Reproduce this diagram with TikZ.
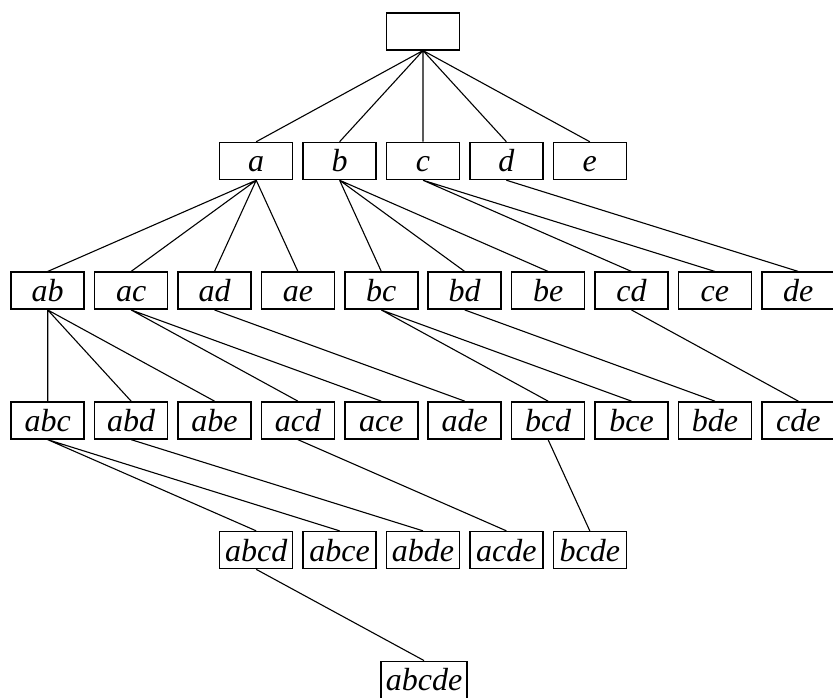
\documentclass[tikz,border=0pt]{standalone}
\usepackage{fontspec}
\setmainfont{Liberation Serif}
\tikzset{
  set/.style={draw, line width=1.5pt, minimum width=73pt, minimum height=37pt,
    inner xsep=5pt, inner ysep=0pt, text height=22pt, text depth=0pt,
    font=\fontsize{32}{32}\selectfont\itshape},
  link/.style={line width=1.1pt}
}
\begin{document}
\begin{tikzpicture}[x=1pt,y=1pt]
    \useasboundingbox (0,0) rectangle (833,697);
    \node[set] (root) at (423,665.7) {};

    \node[set] (a) at (256.2,536) {a};
    \node[set] (b) at (339.6,536) {b};
    \node[set] (c) at (423.0,536) {c};
    \node[set] (d) at (506.4,536) {d};
    \node[set] (e) at (589.8,536) {e};

    \node[set] (ab) at (47.7,406.3) {ab};
    \node[set] (ac) at (131.1,406.3) {ac};
    \node[set] (ad) at (214.5,406.3) {ad};
    \node[set] (ae) at (297.9,406.3) {ae};
    \node[set] (bc) at (381.3,406.3) {bc};
    \node[set] (bd) at (464.7,406.3) {bd};
    \node[set] (be) at (548.1,406.3) {be};
    \node[set] (cd) at (631.5,406.3) {cd};
    \node[set] (ce) at (714.9,406.3) {ce};
    \node[set] (de) at (798.3,406.3) {de};

    \node[set] (abc) at (47.7,276.6) {abc};
    \node[set] (abd) at (131.1,276.6) {abd};
    \node[set] (abe) at (214.5,276.6) {abe};
    \node[set] (acd) at (297.9,276.6) {acd};
    \node[set] (ace) at (381.3,276.6) {ace};
    \node[set] (ade) at (464.7,276.6) {ade};
    \node[set] (bcd) at (548.1,276.6) {bcd};
    \node[set] (bce) at (631.5,276.6) {bce};
    \node[set] (bde) at (714.9,276.6) {bde};
    \node[set] (cde) at (798.3,276.6) {cde};

    \node[set] (abcd) at (256.2,146.9) {abcd};
    \node[set] (abce) at (339.6,146.9) {abce};
    \node[set] (abde) at (423.0,146.9) {abde};
    \node[set] (acde) at (506.4,146.9) {acde};
    \node[set] (bcde) at (589.8,146.9) {bcde};

    \node[set] (abcde) at (424,17.2) {abcde};

    \draw[link] (root.south) -- (a.north) (root.south) -- (b.north) (root.south) -- (c.north)
      (root.south) -- (d.north) (root.south) -- (e.north);

    \draw[link] (a.south) -- (ab.north) (a.south) -- (ac.north) (a.south) -- (ad.north) (a.south) -- (ae.north);
    \draw[link] (b.south) -- (bc.north) (b.south) -- (bd.north) (b.south) -- (be.north);
    \draw[link] (c.south) -- (cd.north) (c.south) -- (ce.north);
    \draw[link] (d.south) -- (de.north);

    \draw[link] (ab.south) -- (abc.north) (ab.south) -- (abd.north) (ab.south) -- (abe.north);
    \draw[link] (ac.south) -- (acd.north) (ac.south) -- (ace.north);
    \draw[link] (ad.south) -- (ade.north);
    \draw[link] (bc.south) -- (bcd.north) (bc.south) -- (bce.north);
    \draw[link] (bd.south) -- (bde.north);
    \draw[link] (cd.south) -- (cde.north);

    \draw[link] (abc.south) -- (abcd.north) (abc.south) -- (abce.north);
    \draw[link] (abd.south) -- (abde.north);
    \draw[link] (acd.south) -- (acde.north);
    \draw[link] (bcd.south) -- (bcde.north);

    \draw[link] (abcd.south) -- (abcde.north);
  \end{tikzpicture}
\end{document}
